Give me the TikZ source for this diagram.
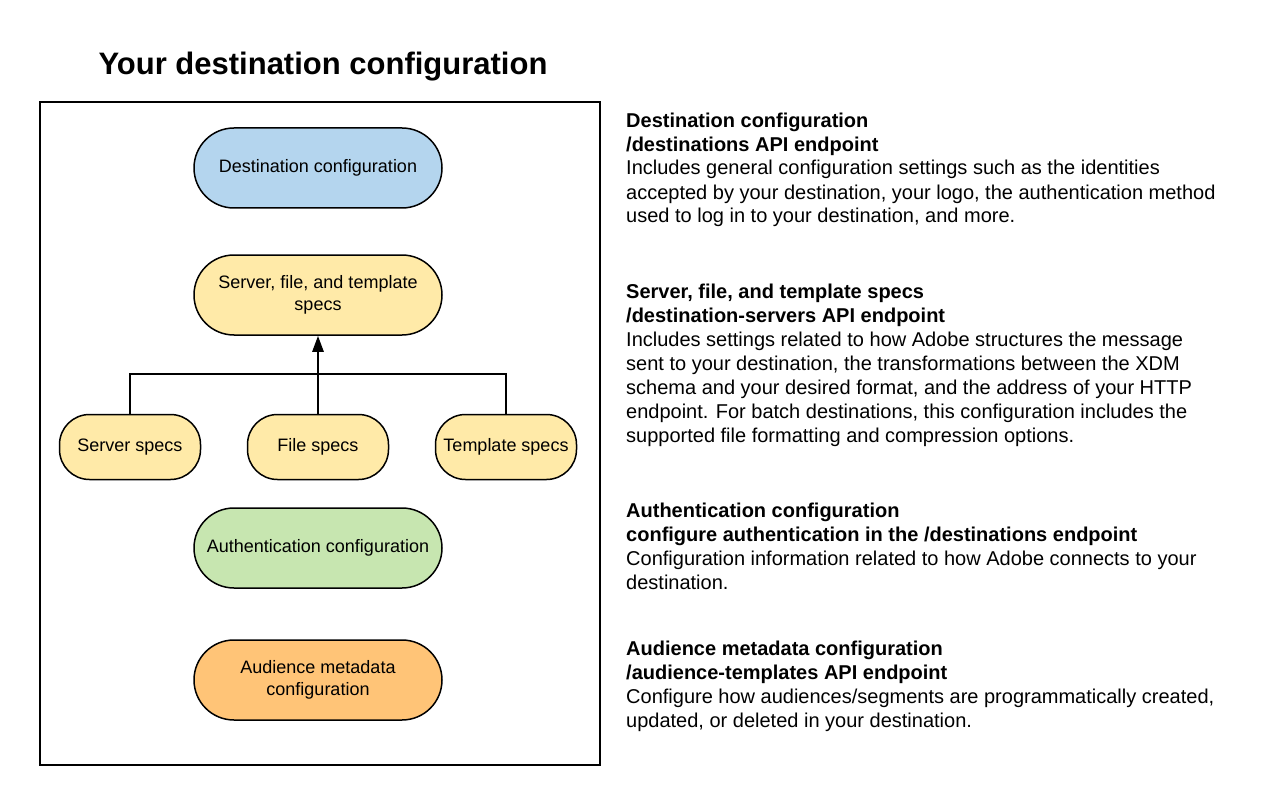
\documentclass[tikz,border=0pt]{standalone}
\usepackage{fontspec}
\setmainfont{Liberation Sans}
\usepackage{tikz}
\usetikzlibrary{arrows.meta,calc}
\usepackage{xcolor}
\definecolor{cfgblue}{HTML}{B4D5EE}
\definecolor{cfgyellow}{HTML}{FFEAA8}
\definecolor{cfggreen}{HTML}{C7E6B0}
\definecolor{cfgorange}{HTML}{FFC477}

\begin{document}
\begin{tikzpicture}[x=1pt,y=-1pt,
  pill/.style={draw, line width=1.5pt, rounded corners=40pt, minimum width=248pt, minimum height=80pt,
    align=center, inner sep=0pt, font=\fontsize{18}{22}\selectfont},
  spec/.style={pill, rounded corners=30pt, minimum width=141pt, minimum height=65pt},
  info/.style={anchor=base west, align=left, inner sep=0pt, font=\fontsize{20}{24}\selectfont}]
\useasboundingbox (0,0) rectangle (1261,805);

\node[anchor=base, font=\bfseries\fontsize{31}{36}\selectfont] (title) at (323,75) {Your destination configuration};
\draw[line width=1.5pt] (40,102) rectangle (600,765);

\node[pill, fill=cfgblue] (dest) at (318,168) {Destination configuration};
\node[pill, fill=cfgyellow] (srv) at (318,295) {Server, file, and template\\specs};
\node[spec, fill=cfgyellow] (server) at (130,447) {Server specs};
\node[spec, fill=cfgyellow] (file) at (318,447) {File specs};
\node[spec, fill=cfgyellow] (tmpl) at (506,447) {Template specs};
\node[pill, fill=cfggreen] (auth) at (318,548) {Authentication configuration};
\node[pill, fill=cfgorange] (aud) at (318,680) {Audience metadata\\configuration};

% specs joined into the template specs node
\coordinate (join) at ($(file.north)+(0,-40)$);
\draw[line width=1.5pt] (server.north) |- (join) -| (tmpl.north);
\draw[line width=2.5pt, -{Triangle[length=16pt,width=11pt]}] (file.north) -- (srv.south);

% right column, placed at the baseline of the last line
\node[info] (d1) at (626,223) {\textbf{Destination configuration}\\\textbf{/destinations API endpoint}\\
  Includes general configuration settings such as the identities\\
  accepted by your destination, your logo, the authentication method\\
  used to log in to your destination, and more.};
\node[info] (d2) at (626,442) {\textbf{Server, file, and template specs}\\\textbf{/destination-servers API endpoint}\\
  Includes settings related to how Adobe structures the message\\
  sent to your destination, the transformations between the XDM\\
  schema and your desired format, and the address of your HTTP\\
  endpoint. For batch destinations, this configuration includes the\\
  supported file formatting and compression options.};
\node[info] (d3) at (626,589) {\textbf{Authentication configuration}\\\textbf{configure authentication in the /destinations endpoint}\\
  Configuration information related to how Adobe connects to your\\
  destination.};
\node[info] (d4) at (626,727) {\textbf{Audience metadata configuration}\\\textbf{/audience-templates API endpoint}\\
  Configure how audiences/segments are programmatically created,\\
  updated, or deleted in your destination.};
\end{tikzpicture}
\end{document}
